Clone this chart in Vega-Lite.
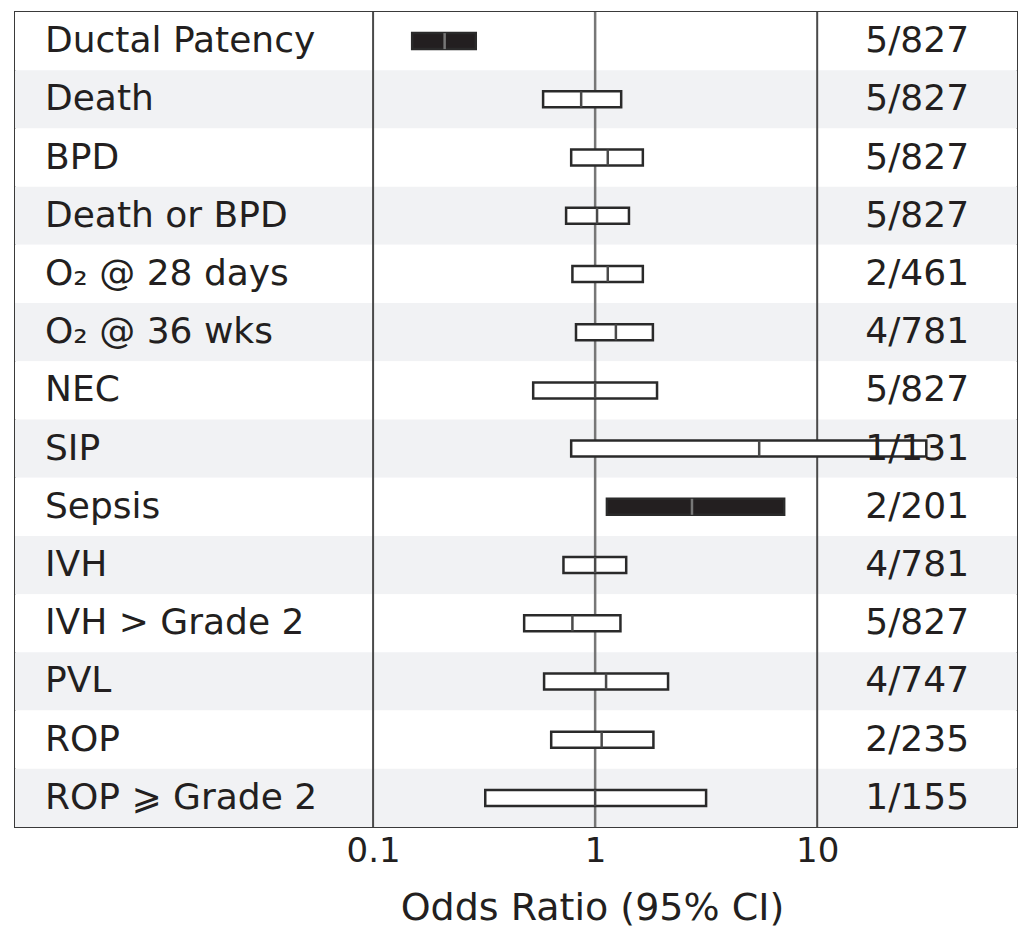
{
  "$schema": "https://vega.github.io/schema/vega-lite/v6.json",
  "width": 1002,
  "height": 815,
  "padding": {"left": 15, "top": 10, "right": 2, "bottom": 5},
  "background": "white",
  "config": {
    "view": {"stroke": "#3a3a3a", "strokeWidth": 2},
    "font": "DejaVu Sans"
  },
  "data": {
    "values": [
      {"outcome": "Ductal Patency", "or": 0.21, "lo": 0.15, "hi": 0.29, "sig": "yes", "n": "5/827"},
      {"outcome": "Death", "or": 0.865, "lo": 0.583, "hi": 1.31, "sig": "no", "n": "5/827"},
      {"outcome": "BPD", "or": 1.14, "lo": 0.78, "hi": 1.64, "sig": "no", "n": "5/827"},
      {"outcome": "Death or BPD", "or": 1.02, "lo": 0.74, "hi": 1.42, "sig": "no", "n": "5/827"},
      {"outcome": "O₂ @ 28 days", "or": 1.14, "lo": 0.79, "hi": 1.64, "sig": "no", "n": "2/461"},
      {"outcome": "O₂ @ 36 wks", "or": 1.24, "lo": 0.82, "hi": 1.82, "sig": "no", "n": "4/781"},
      {"outcome": "NEC", "or": 1.0, "lo": 0.526, "hi": 1.9, "sig": "no", "n": "5/827"},
      {"outcome": "SIP", "or": 5.48, "lo": 0.78, "hi": 31, "sig": "no", "n": "1/131"},
      {"outcome": "Sepsis", "or": 2.73, "lo": 1.13, "hi": 7.1, "sig": "yes", "n": "2/201"},
      {"outcome": "IVH", "or": 1.0, "lo": 0.72, "hi": 1.38, "sig": "no", "n": "4/781"},
      {"outcome": "IVH > Grade 2", "or": 0.79, "lo": 0.479, "hi": 1.3, "sig": "no", "n": "5/827"},
      {"outcome": "PVL", "or": 1.12, "lo": 0.589, "hi": 2.13, "sig": "no", "n": "4/747"},
      {"outcome": "ROP", "or": 1.07, "lo": 0.634, "hi": 1.83, "sig": "no", "n": "2/235"},
      {"outcome": "ROP ⩾ Grade 2", "or": 1.0, "lo": 0.32, "hi": 3.16, "sig": "no", "n": "1/155"}
    ]
  },
  "layer": [
    {
      "transform": [
        {"window": [{"op": "row_number", "as": "i"}]}
      ],
      "mark": {"type": "rect"},
      "encoding": {
        "y": {"field": "outcome", "type": "nominal", "sort": null, "axis": null,
              "scale": {"paddingInner": 0, "paddingOuter": 0}},
        "fill": {"condition": {"test": "datum.i % 2 == 0", "value": "#f1f2f4"}, "value": "#ffffff"}
      }
    },
    {
      "data": {"values": [
        {"ref": 0.1, "kind": "divider"},
        {"ref": 1, "kind": "null"},
        {"ref": 10, "kind": "divider"}
      ]},
      "mark": {"type": "rule"},
      "encoding": {
        "x": {
          "field": "ref", "type": "quantitative",
          "scale": {"type": "log", "domain": [0.00244, 79.4], "nice": false, "zero": false},
          "axis": {
            "values": [0.1, 1, 10],
            "format": "~g",
            "ticks": false,
            "domain": false,
            "grid": false,
            "labelFontSize": 34,
            "labelColor": "#231f20",
            "labelPadding": 7,
            "title": "Odds Ratio (95% CI)",
            "titleFontSize": 38,
            "titleFontWeight": "normal",
            "titleColor": "#231f20",
            "titleX": 577,
            "titlePadding": 21
          }
        },
        "color": {"field": "kind", "type": "nominal",
                  "scale": {"domain": ["divider", "null"], "range": ["#4a4a4a", "#777777"]},
                  "legend": null},
        "strokeWidth": {"field": "kind", "type": "nominal",
                  "scale": {"domain": ["divider", "null"], "range": [2, 2.5]},
                  "legend": null}
      }
    },
    {
      "mark": {"type": "bar", "height": 16, "stroke": "#2a2a2a", "strokeWidth": 2.5},
      "encoding": {
        "y": {"field": "outcome", "type": "nominal", "sort": null},
        "x": {"field": "lo", "type": "quantitative"},
        "x2": {"field": "hi"},
        "fill": {"field": "sig", "type": "nominal",
                 "scale": {"domain": ["no", "yes"], "range": ["#ffffff", "#231f20"]},
                 "legend": null}
      }
    },
    {
      "mark": {"type": "tick", "thickness": 2.5, "size": 16, "opacity": 1},
      "encoding": {
        "y": {"field": "outcome", "type": "nominal", "sort": null},
        "x": {"field": "or", "type": "quantitative"},
        "color": {"field": "sig", "type": "nominal",
                  "scale": {"domain": ["no", "yes"], "range": ["#333333", "#d8d8d8"]},
                  "legend": null}
      }
    },
    {
      "mark": {"type": "text", "align": "left", "baseline": "middle", "fontSize": 36, "color": "#231f20"},
      "encoding": {
        "y": {"field": "outcome", "type": "nominal", "sort": null},
        "x": {"datum": 0.00333, "type": "quantitative"},
        "text": {"field": "outcome"}
      }
    },
    {
      "mark": {"type": "text", "align": "center", "baseline": "middle", "fontSize": 36, "color": "#231f20"},
      "encoding": {
        "y": {"field": "outcome", "type": "nominal", "sort": null},
        "x": {"datum": 28.2, "type": "quantitative"},
        "text": {"field": "n"}
      }
    }
  ]
}
